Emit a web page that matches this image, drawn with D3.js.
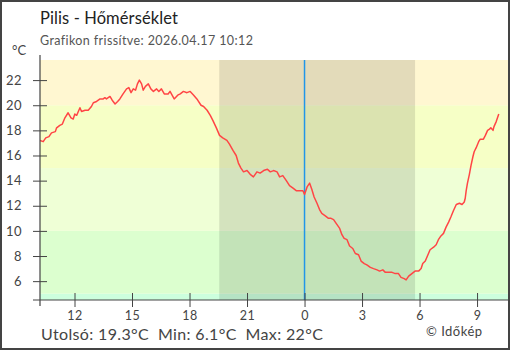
<!DOCTYPE html>
<html><head><meta charset="utf-8">
<script src="https://cdn.jsdelivr.net/npm/d3@7"></script>
<style>html,body{margin:0;padding:0;background:#fff;} svg{display:block;font-family:Lato, "DejaVu Sans", sans-serif;}</style>
</head><body><svg id="c" width="510" height="350"></svg>
<script>
const times = [
"2026-04-16 10:12","2026-04-16 10:22","2026-04-16 10:30","2026-04-16 10:40","2026-04-16 10:48","2026-04-16 11:00","2026-04-16 11:04","2026-04-16 11:14","2026-04-16 11:22","2026-04-16 11:30",
"2026-04-16 11:40","2026-04-16 11:49","2026-04-16 11:56","2026-04-16 12:01","2026-04-16 12:07","2026-04-16 12:17","2026-04-16 12:22","2026-04-16 12:33","2026-04-16 12:43","2026-04-16 12:53",
"2026-04-16 12:59","2026-04-16 13:09","2026-04-16 13:20","2026-04-16 13:30","2026-04-16 13:35","2026-04-16 13:40","2026-04-16 13:51","2026-04-16 13:58","2026-04-16 14:07","2026-04-16 14:15",
"2026-04-16 14:22","2026-04-16 14:32","2026-04-16 14:43","2026-04-16 14:50","2026-04-16 14:57","2026-04-16 15:04","2026-04-16 15:11","2026-04-16 15:17","2026-04-16 15:23","2026-04-16 15:30",
"2026-04-16 15:35","2026-04-16 15:42","2026-04-16 15:51","2026-04-16 15:59","2026-04-16 16:07","2026-04-16 16:17","2026-04-16 16:24","2026-04-16 16:32","2026-04-16 16:41","2026-04-16 16:53",
"2026-04-16 16:59","2026-04-16 17:12","2026-04-16 17:23","2026-04-16 17:31","2026-04-16 17:41","2026-04-16 17:52","2026-04-16 18:02","2026-04-16 18:13","2026-04-16 18:23","2026-04-16 18:36",
"2026-04-16 18:44","2026-04-16 18:55","2026-04-16 19:05","2026-04-16 19:13","2026-04-16 19:24","2026-04-16 19:34","2026-04-16 19:44","2026-04-16 19:57","2026-04-16 20:05","2026-04-16 20:16",
"2026-04-16 20:26","2026-04-16 20:33","2026-04-16 20:41","2026-04-16 20:49","2026-04-16 21:00","2026-04-16 21:10","2026-04-16 21:20","2026-04-16 21:31","2026-04-16 21:41","2026-04-16 21:52",
"2026-04-16 22:04","2026-04-16 22:13","2026-04-16 22:23","2026-04-16 22:34","2026-04-16 22:42","2026-04-16 22:52","2026-04-16 23:03","2026-04-16 23:13","2026-04-16 23:24","2026-04-16 23:34",
"2026-04-16 23:47","2026-04-16 23:55","2026-04-17 00:00","2026-04-17 00:08","2026-04-17 00:16","2026-04-17 00:23","2026-04-17 00:30","2026-04-17 00:39","2026-04-17 00:47","2026-04-17 00:54",
"2026-04-17 01:05","2026-04-17 01:15","2026-04-17 01:23","2026-04-17 01:31","2026-04-17 01:39","2026-04-17 01:50","2026-04-17 01:57","2026-04-17 02:04","2026-04-17 02:13","2026-04-17 02:21",
"2026-04-17 02:31","2026-04-17 02:39","2026-04-17 02:49","2026-04-17 02:57","2026-04-17 03:07","2026-04-17 03:15","2026-04-17 03:26","2026-04-17 03:36","2026-04-17 03:47","2026-04-17 03:55",
"2026-04-17 04:05","2026-04-17 04:13","2026-04-17 04:23","2026-04-17 04:34","2026-04-17 04:44","2026-04-17 04:54","2026-04-17 05:02","2026-04-17 05:12","2026-04-17 05:18","2026-04-17 05:26",
"2026-04-17 05:36","2026-04-17 05:46","2026-04-17 05:57","2026-04-17 06:05","2026-04-17 06:10","2026-04-17 06:18","2026-04-17 06:23","2026-04-17 06:33","2026-04-17 06:44","2026-04-17 06:52",
"2026-04-17 06:59","2026-04-17 07:07","2026-04-17 07:15","2026-04-17 07:23","2026-04-17 07:31","2026-04-17 07:38","2026-04-17 07:46","2026-04-17 07:55","2026-04-17 08:05","2026-04-17 08:13",
"2026-04-17 08:20","2026-04-17 08:23","2026-04-17 08:26","2026-04-17 08:30","2026-04-17 08:36","2026-04-17 08:41","2026-04-17 08:47","2026-04-17 08:51","2026-04-17 08:57","2026-04-17 09:05",
"2026-04-17 09:10","2026-04-17 09:20","2026-04-17 09:26","2026-04-17 09:33","2026-04-17 09:39","2026-04-17 09:43","2026-04-17 09:50","2026-04-17 09:53","2026-04-17 10:00","2026-04-17 10:04",
"2026-04-17 10:08"
];
const temps = [
17.2,17.1,17.4,17.5,17.8,17.9,18.2,18.4,18.5,19.0,
19.4,19.0,18.9,19.3,19.2,19.8,19.5,19.6,19.6,19.9,
20.2,20.3,20.5,20.5,20.6,20.5,20.7,20.4,20.1,20.3,
20.5,20.9,21.3,21.4,21.0,21.3,21.2,21.7,22.0,21.7,
21.2,21.5,21.7,21.3,21.1,21.3,21.1,21.3,20.9,20.9,
21.1,20.5,20.8,20.9,21.1,21.0,21.1,20.8,20.5,20.0,
19.9,19.6,19.2,18.8,18.2,17.6,17.4,17.2,16.9,16.4,
16.0,15.4,15.0,14.7,14.8,14.5,14.3,14.7,14.6,14.8,
14.9,14.7,14.8,14.7,14.3,14.4,14.0,13.6,13.4,13.2,
13.2,13.2,12.9,13.5,13.8,13.3,12.7,12.2,11.7,11.4,
11.2,11.0,11.0,10.9,10.6,10.2,9.7,9.4,9.3,8.8,
8.6,8.2,8.1,7.6,7.4,7.3,7.1,7.0,6.9,6.8,
6.9,6.7,6.7,6.7,6.6,6.6,6.3,6.2,6.1,6.4,
6.6,6.8,6.8,7.0,7.4,7.6,7.9,8.5,8.7,8.9,
9.3,9.6,9.8,10.3,10.7,11.1,11.6,12.1,12.2,12.1,
12.3,12.6,13.2,13.8,14.5,15.2,15.9,16.3,16.6,17.1,
17.3,17.3,17.6,18.0,18.1,18.2,18.0,18.3,18.7,19.0,
19.3
];
const yTickValues = [6, 8, 10, 12, 14, 16, 18, 20, 22];
const xTickTimes = ["2026-04-16 12:00","2026-04-16 15:00","2026-04-16 18:00","2026-04-16 21:00","2026-04-17 00:00","2026-04-17 03:00","2026-04-17 06:00","2026-04-17 09:00"];
const xTickLabels = ["12","15","18","21","0","3","6","9"];
const bandEdges = [4.5, 5, 10, 15, 20, 23.6];
const bandColors = ["#ccffdd", "#dcffcf", "#efffd6", "#f6ffc6", "#fff7d1"];
const nightSpan = ["2026-04-16 19:33", "2026-04-17 05:46"];
const nowMark = "2026-04-17 00:00";
const xDomain = ["2026-04-16 10:12", "2026-04-17 10:40"];
const yDomain = [4.5, 23.6];
const titleText = "Pilis - Hőmérséklet";
const subtitleText = "Grafikon frissítve: 2026.04.17 10:12";
const unitText = "°C";
const summaryText = "Utolsó: 19.3°C  Min: 6.1°C  Max: 22°C";
const creditText = "© Időkép";

(function () {
const parse = d3.timeParse("%Y-%m-%d %H:%M");
const W = 510, H = 350;
const pL = 40, pR = 509, pT = 60, pB = 300;
const x = d3.scaleTime().domain(xDomain.map(parse)).range([pL, pR]);
const y = d3.scaleLinear().domain(yDomain).range([pB, pT]);
const svg = d3.select("#c");

const defs = svg.append("defs");
defs.append("clipPath").attr("id", "plot").append("rect")
  .attr("x", pL).attr("y", pT).attr("width", pR - pL).attr("height", pB - pT);

const plot = svg.append("g").attr("clip-path", "url(#plot)");
plot.selectAll("rect.band").data(bandColors).enter().append("rect")
  .attr("class", "band")
  .attr("x", pL).attr("width", pR - pL)
  .attr("y", (d, i) => y(bandEdges[i + 1]))
  .attr("height", (d, i) => y(bandEdges[i]) - y(bandEdges[i + 1]))
  .attr("fill", d => d);
plot.append("rect")
  .attr("x", x(parse(nightSpan[0]))).attr("width", x(parse(nightSpan[1])) - x(parse(nightSpan[0])))
  .attr("y", pT).attr("height", pB - pT)
  .attr("fill", "rgba(0,0,0,0.11)");
plot.append("line")
  .attr("x1", x(parse(nowMark))).attr("x2", x(parse(nowMark)))
  .attr("y1", pT).attr("y2", pB)
  .attr("stroke", "#2196e8").attr("stroke-width", 1.5);
const pts = times.map((t, i) => [parse(t), temps[i]]);
plot.append("path").datum(pts)
  .attr("fill", "none").attr("stroke", "#ff4545").attr("stroke-width", 1.5)
  .attr("stroke-linejoin", "round")
  .attr("d", d3.line().x(d => x(d[0])).y(d => y(d[1])));

const axisColor = "#444";
const yAxis = svg.append("g").attr("transform", `translate(${pL},0)`)
  .call(d3.axisLeft(y).tickValues(yTickValues).tickSize(7).tickPadding(11).tickFormat(d3.format("d")));
yAxis.select(".domain").remove();
yAxis.selectAll(".tick line").attr("x1", -7).attr("x2", 7).attr("stroke", axisColor);
yAxis.selectAll(".tick text").attr("font-size", 13).attr("fill", "#444")
  .attr("font-family", "Lato, sans-serif").attr("letter-spacing", 0.4);

const xAxis = svg.append("g").attr("transform", `translate(0,${pB})`)
  .call(d3.axisBottom(x).tickValues(xTickTimes.map(parse)).tickSize(7).tickPadding(4)
    .tickFormat((d, i) => xTickLabels[i]));
xAxis.select(".domain").remove();
xAxis.selectAll(".tick line").attr("y1", -7).attr("y2", 7).attr("stroke", axisColor);
xAxis.selectAll(".tick text").attr("font-size", 12.5).attr("fill", "#444")
  .attr("font-family", "Lato, sans-serif").attr("letter-spacing", 0.4);

svg.append("line").attr("x1", pL).attr("x2", pL).attr("y1", 55).attr("y2", 306)
  .attr("stroke", axisColor).attr("stroke-width", 1.2);
svg.append("line").attr("x1", 33).attr("x2", pR).attr("y1", pB).attr("y2", pB)
  .attr("stroke", axisColor).attr("stroke-width", 1.2);

svg.append("text").attr("x", 40).attr("y", 24).attr("font-size", 16.5).attr("fill", "#222")
  .attr("letter-spacing", 0.1).text(titleText);
svg.append("text").attr("x", 40).attr("y", 45).attr("font-size", 12.5).attr("fill", "#555")
  .attr("letter-spacing", 0.4).text(subtitleText);
svg.append("text").attr("x", 12).attr("y", 55).attr("font-size", 13).attr("fill", "#444").text(unitText);
svg.append("text").attr("x", 41).attr("y", 340).attr("font-size", 16).attr("fill", "#444")
  .attr("letter-spacing", 0.35).style("white-space", "pre").text(summaryText);
svg.append("text").attr("x", 426).attr("y", 336).attr("font-size", 13).attr("fill", "#444")
  .attr("letter-spacing", 0.5).text(creditText);

svg.append("rect").attr("x", 1).attr("y", 1).attr("width", W - 2).attr("height", H - 2)
  .attr("fill", "none").attr("stroke", "#444").attr("stroke-width", 2);
})();
</script></body></html>
